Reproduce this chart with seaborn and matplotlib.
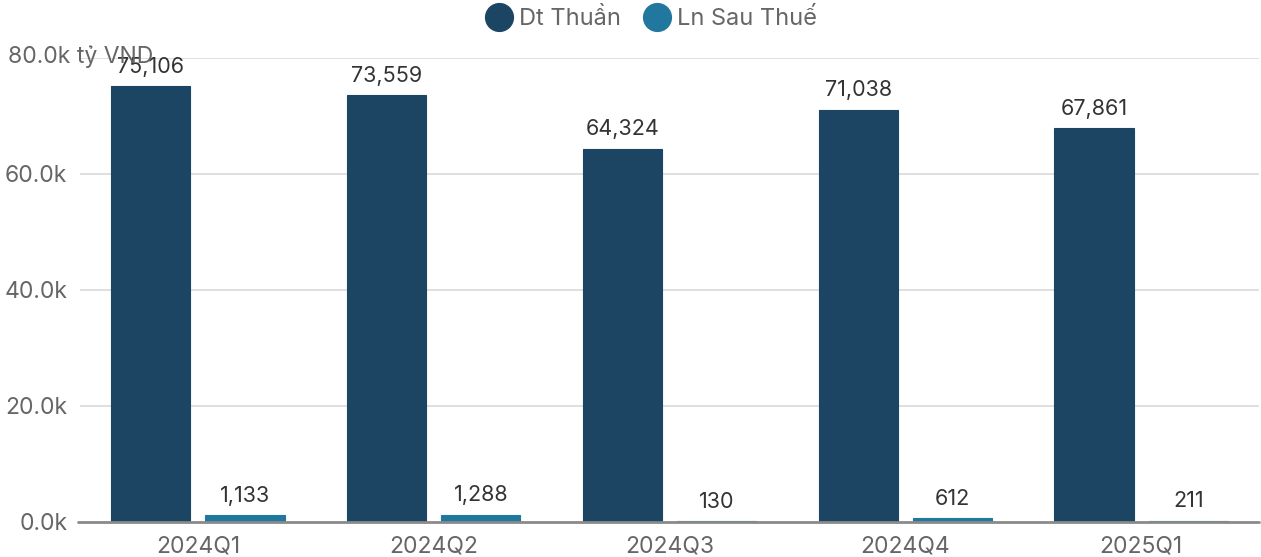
import matplotlib
matplotlib.use("Agg")
import matplotlib.pyplot as plt
from matplotlib.lines import Line2D
import seaborn as sns
import pandas as pd

quarters = ["2024Q1", "2024Q2", "2024Q3", "2024Q4", "2025Q1"]
dt_thuan = [75106, 73559, 64324, 71038, 67861]
ln_sau_thue = [1133, 1288, 130, 612, 211]
series_names = ["Dt Thuần", "Ln Sau Thuế"]
colors = ["#1b4563", "#21789f"]
ytick_values = [0, 20000, 40000, 60000, 80000]

df = pd.DataFrame({
    "quarter": quarters * 2,
    "series": [series_names[0]] * len(quarters) + [series_names[1]] * len(quarters),
    "value": dt_thuan + ln_sau_thue,
})

sns.set_theme(style="white")
plt.rcParams["font.family"] = ["Inter", "DejaVu Sans"]

fig = plt.figure(figsize=(12.61, 5.57), dpi=100)
ax = fig.add_axes([80 / 1261, 35 / 557, 1179 / 1261, 464 / 557])

sns.barplot(data=df, x="quarter", y="value", hue="series", palette=colors,
            width=0.8, gap=0.16, order=quarters, hue_order=series_names,
            ax=ax, legend=False, saturation=1, edgecolor="none")

# keep very small bars visible as thin strips
for patch, col in zip(ax.patches, [colors[0]] * len(quarters) + [colors[1]] * len(quarters)):
    patch.set_edgecolor(col)
    patch.set_linewidth(0.8)

ax.set_xlim(-0.5, len(quarters) - 0.5)
ax.set_ylim(0, 80000)
ax.set_xlabel("")
ax.set_ylabel("")

ax.set_yticks(ytick_values)
ax.set_yticklabels([f"{v/1000:.1f}k" if v < 80000 else "" for v in ytick_values])
ax.tick_params(axis="y", length=0, pad=9, labelsize=16.5, labelcolor="#666666")
ax.tick_params(axis="x", length=0, pad=10, labelsize=16.5, labelcolor="#666666")

for v in ytick_values[1:]:
    ax.axhline(v, color="#dcdcdc", lw=1.3, zorder=0)
ax.plot([-0.51, len(quarters) - 0.5], [0, 0], color="#8a8a8a", lw=2, clip_on=False, zorder=3)

for s in ax.spines.values():
    s.set_visible(False)

for cont in ax.containers:
    ax.bar_label(cont, labels=[f"{v:,.0f}" for v in cont.datavalues],
                 padding=7, fontsize=15.5, color="#333333", clip_on=False)

fig.text(8 / 1261, 1 - 57 / 557, "80.0k tỷ VND", fontsize=16.5, color="#666666",
         ha="left", va="center")

handles = [Line2D([0], [0], marker="o", linestyle="", markersize=20,
                  markerfacecolor=c, markeredgecolor=c) for c in colors]
leg = fig.legend(handles, series_names, loc="center", bbox_to_anchor=(652 / 1261, 1 - 19 / 557),
                 ncol=2, frameon=False, fontsize=17, handletextpad=0.35,
                 columnspacing=1.0, handlelength=1.0)
for t in leg.get_texts():
    t.set_color("#666666")

fig.savefig("out.png", dpi=100)
